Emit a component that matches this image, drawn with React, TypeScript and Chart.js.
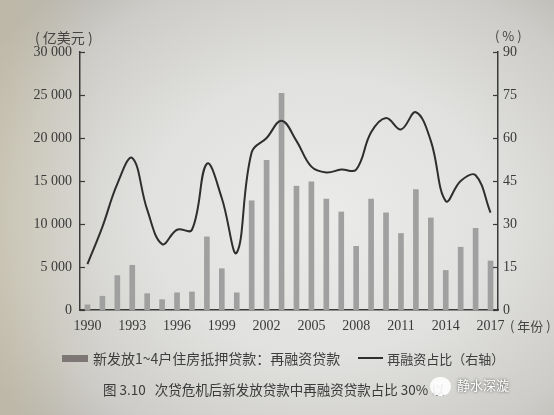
import React, { useEffect, useRef } from "react";
import { Chart, registerables } from "chart.js";

Chart.register(...registerables);

const years: string[] = [
  "1990", "1991", "1992", "1993", "1994", "1995", "1996", "1997", "1998", "1999",
  "2000", "2001", "2002", "2003", "2004", "2005", "2006", "2007", "2008", "2009",
  "2010", "2011", "2012", "2013", "2014", "2015", "2016", "2017",
];
const refinanceLoans: number[] = [
  600, 1600, 4000, 5200, 1900, 1200, 2000, 2100, 8500, 4800,
  2000, 12700, 17400, 25200, 14400, 14900, 12900, 11400, 7400, 12900,
  11300, 8900, 14000, 10700, 4600, 7300, 9500, 5700,
];
const refinanceShare: number[] = [
  16, 29, 44, 53, 35, 23, 28, 28, 51, 39,
  20, 55, 60, 66, 59, 50, 48, 49, 49, 62,
  67, 63, 69, 59, 38, 45, 47, 34,
];
const leftTicks: number[] = [0, 5000, 10000, 15000, 20000, 25000, 30000];
const rightTicks: number[] = [0, 15, 30, 45, 60, 75, 90];

const barLabel = "新发放1~4户住房抵押贷款：再融资贷款";
const lineLabel = "再融资占比（右轴）";

const innerTicks = {
  id: "innerTicks",
  afterDraw(chart: any) {
    const ctx = chart.ctx;
    const y = chart.scales.y;
    const y1 = chart.scales.y1;
    ctx.save();
    ctx.strokeStyle = "#3a3a3a";
    ctx.lineWidth = 1.2;
    leftTicks.forEach((v) => {
      const p = Math.round(y.getPixelForValue(v)) + 0.5;
      ctx.beginPath();
      ctx.moveTo(chart.chartArea.left, p);
      ctx.lineTo(chart.chartArea.left + 5, p);
      ctx.stroke();
    });
    rightTicks.forEach((v) => {
      const p = Math.round(y1.getPixelForValue(v)) + 0.5;
      ctx.beginPath();
      ctx.moveTo(chart.chartArea.right - 5, p);
      ctx.lineTo(chart.chartArea.right, p);
      ctx.stroke();
    });
    ctx.restore();
  },
};

export default function App() {
  const ref = useRef<HTMLCanvasElement | null>(null);
  useEffect(() => {
    if (!ref.current) return;
    const tickFont = { family: "'Liberation Serif', 'DejaVu Serif', serif", size: 14 };
    const chart = new Chart(ref.current, {
      type: "bar",
      data: {
        labels: years,
        datasets: [
          {
            type: "line",
            label: lineLabel,
            data: refinanceShare,
            yAxisID: "y1",
            borderColor: "#2e2e2e",
            borderWidth: 2,
            pointRadius: 0,
            tension: 0.4,
            fill: false,
            order: 0,
          } as any,
          {
            type: "bar",
            label: barLabel,
            data: refinanceLoans,
            yAxisID: "y",
            backgroundColor: "#a0a0a0",
            barThickness: 5,
            order: 1,
          },
        ],
      },
      options: {
        responsive: false,
        animation: false,
        layout: { padding: { top: 52, left: 0, right: 0, bottom: 0 } },
        plugins: { legend: { display: false }, tooltip: { enabled: false } },
        scales: {
          x: {
            grid: { display: false, drawTicks: false },
            border: { display: true, color: "#3a3a3a", width: 1.5 },
            ticks: {
              autoSkip: false,
              maxRotation: 0,
              padding: 8,
              color: "#3a3a3a",
              font: tickFont,
              callback: (_v: any, i: number) => ((Number(years[i]) - 1990) % 3 === 0 ? years[i] : ""),
            },
            afterFit: (s: any) => { s.height = 105; },
          },
          y: {
            position: "left",
            min: 0,
            max: 30000,
            grid: { display: false, drawTicks: false },
            border: { display: true, color: "#3a3a3a", width: 1.5 },
            afterBuildTicks: (s: any) => { s.ticks = leftTicks.map((v) => ({ value: v })); },
            ticks: {
              padding: 8,
              color: "#3a3a3a",
              font: tickFont,
              callback: (v: any) => String(v).replace(/\B(?=(\d{3})+(?!\d))/g, " "),
            },
            afterFit: (s: any) => { s.width = 80; },
          },
          y1: {
            position: "right",
            min: 0,
            max: 90,
            grid: { display: false, drawTicks: false },
            border: { display: true, color: "#3a3a3a", width: 1.5 },
            afterBuildTicks: (s: any) => { s.ticks = rightTicks.map((v) => ({ value: v })); },
            ticks: { padding: 5, color: "#3a3a3a", font: tickFont },
            afterFit: (s: any) => { s.width = 56; },
          },
        },
      },
      plugins: [innerTicks],
    });
    return () => chart.destroy();
  }, []);

  const cjk = "'Noto Sans CJK SC', sans-serif";
  return (
    <div
      style={{
        position: "absolute",
        left: 0,
        top: 0,
        width: 554,
        height: 415,
        overflow: "hidden",
        background:
          "radial-gradient(ellipse 70% 75% at 58% 52%, #ebebe9 0%, #e1e1df 45%, #cdccc8 80%, #b8b6b1 100%)",
      }}
    >
      <div
        style={{
          position: "absolute",
          inset: 0,
          background: "linear-gradient(90deg, rgba(200,190,150,0.35) 0%, rgba(200,190,150,0) 18%)",
        }}
      />
      <canvas ref={ref} width={554} height={415} style={{ position: "absolute", left: 0, top: 0 }} />
      <div style={{ position: "absolute", left: 35, top: 27, fontFamily: cjk, fontSize: 14, color: "#444", whiteSpace: "nowrap" }}>
        (&nbsp;亿美元&nbsp;)
      </div>
      <div style={{ position: "absolute", left: 495, top: 26, fontFamily: cjk, fontSize: 13, color: "#444", whiteSpace: "nowrap" }}>
        (&nbsp;%&nbsp;)
      </div>
      <div style={{ position: "absolute", left: 510, top: 316, fontFamily: cjk, fontSize: 13, color: "#444", whiteSpace: "nowrap" }}>
        (&nbsp;年份&nbsp;)
      </div>
      <div style={{ position: "absolute", left: 62, top: 348, display: "flex", alignItems: "center", fontFamily: cjk, fontSize: 14, color: "#3e3e3e", whiteSpace: "nowrap" }}>
        <span style={{ display: "inline-block", width: 26, height: 7, background: "#7c7674", marginRight: 5 }} />
        <span>{barLabel}</span>
        <span style={{ display: "inline-block", width: 25, height: 2, background: "#2e2e2e", marginLeft: 18, marginRight: 4 }} />
        <span style={{ fontSize: 13 }}>{lineLabel}</span>
      </div>
      <div style={{ position: "absolute", left: 103, top: 379, fontFamily: cjk, fontSize: 13.5, color: "#3a3a3a", whiteSpace: "nowrap" }}>
        图 3.10&nbsp;&nbsp;&nbsp;次贷危机后新发放贷款中再融资贷款占比 30% 以
      </div>
      <div style={{ position: "absolute", left: 430, top: 377, width: 21, height: 19, borderRadius: 10, background: "rgba(255,255,255,0.9)" }} />
      <div style={{ position: "absolute", left: 457, top: 375, fontFamily: cjk, fontSize: 13, color: "#fff", textShadow: "0 0 3px rgba(0,0,0,0.7)", whiteSpace: "nowrap" }}>
        静水深漩
      </div>
    </div>
  );
}
